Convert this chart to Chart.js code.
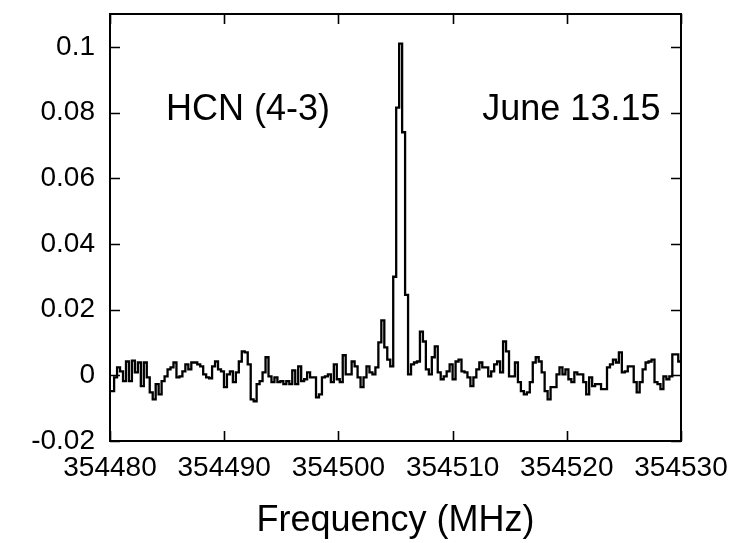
<!DOCTYPE html>
<html><head><meta charset="utf-8">
<style>html,body{margin:0;padding:0;background:#fff;overflow:hidden}#wrap{width:742px;height:543px;position:relative}</style>
<script src="https://cdn.jsdelivr.net/npm/chart.js@4/dist/chart.umd.min.js"></script>
</head><body><div id="wrap"><canvas id="c" width="742" height="543"></canvas></div>
<script>
// ---- data ----
const startFreq = 354480.1;      // MHz, left edge of first channel
const channelWidth = 0.26;       // MHz
const intensity = [
 -0.0048,-0.0006,0.0024,0.0012,-0.0018,0.0042,-0.0018,0.0045,0.0009,0.0039,
 -0.0033,0.0039,-0.0006,-0.0052,-0.0073,-0.0027,-0.0058,-0.0018,-0.0003,0.0018,
 0.0024,0.0039,-0.0006,-0.0003,0.0012,0.0033,0.0018,0.0039,0.0039,0.0033,
 0.0027,0.0003,-0.0006,-0.0009,0.0027,0.0042,0.0018,0.0012,-0.0036,0.0003,
 0.0012,-0.0021,0.0009,0.0042,0.0073,0.0070,0.0033,-0.0073,-0.0079,-0.0027,
 -0.0018,0.0009,0.0055,-0.0003,-0.0021,-0.0006,-0.0021,-0.0018,-0.0027,-0.0018,
 -0.0027,0.0015,-0.0027,0.0027,-0.0018,-0.0012,0.0009,-0.0006,-0.0006,-0.0067,
 -0.0058,-0.0006,-0.0003,0.0003,-0.0021,0.0033,-0.0012,-0.0021,0.0061,0.0003,
 0.0003,0.0042,0.0027,-0.0006,-0.0036,-0.0006,0.0027,0.0009,0.0003,0.0024,
 0.0100,0.0167,0.0085,0.0048,0.0027,0.0300,0.0815,0.1010,0.0740,0.0245,
 0.0003,0.0033,0.0039,0.0042,0.0133,0.0103,0.0018,0.0003,0.0055,0.0088,
 0.0009,-0.0012,-0.0003,0.0012,0.0033,-0.0012,0.0042,0.0048,0.0012,0.0009,
 -0.0006,-0.0033,-0.0006,0.0018,0.0039,0.0024,0.0024,-0.0003,0.0012,0.0033,
 0.0042,0.0009,0.0103,0.0073,-0.0003,-0.0003,0.0039,-0.0021,-0.0048,-0.0058,
 -0.0052,-0.0021,0.0039,0.0055,0.0042,0.0009,-0.0048,-0.0073,-0.0036,-0.0036,
 0.0003,0.0024,0.0003,0.0018,-0.0012,-0.0021,0.0009,0.0003,0.0003,-0.0021,
 -0.0058,-0.0006,-0.0033,-0.0027,-0.0027,-0.0042,-0.0042,0.0024,0.0033,0.0048,
 0.0039,0.0070,0.0009,0.0012,0.0027,0.0027,-0.0021,-0.0052,-0.0021,0.0018,
 0.0039,0.0042,0.0048,-0.0021,-0.0027,-0.0042,-0.0003,-0.0012,-0.0003,0.0064,
 0.0064,0.0042,0.0012,0.0003
];
const xTicks = [354480, 354490, 354500, 354510, 354520, 354530];
const yTicks = [-0.02, 0, 0.02, 0.04, 0.06, 0.08, 0.1];
const yTickLabels = ['-0.02', '0', '0.02', '0.04', '0.06', '0.08', '0.1'];
const xRange = [354480, 354530];
const yRange = [-0.02, 0.11];
const xTitle = 'Frequency (MHz)';
const lineName = 'HCN (4-3)';
const dateName = 'June 13.15';

// ---- build points (channel left edges, stepped) ----
const points = intensity.map((v, i) => ({ x: startFreq + i * channelWidth, y: v }));
points.unshift({ x: xRange[0], y: intensity[0] });
points.push({ x: startFreq + intensity.length * channelWidth, y: intensity[intensity.length - 1] });

const FONT = '"Liberation Sans", Arial, Helvetica, sans-serif';
const TICK_FONT_SIZE = 28;
const TEXT_FONT_SIZE = 36;

const framePlugin = {
  id: 'frame',
  afterDatasetsDraw(chart) {
    const { ctx, chartArea: a, scales } = chart;
    const xs = scales.x, ys = scales.y;
    const len = 10;
    ctx.save();
    ctx.strokeStyle = '#000';
    ctx.lineWidth = 1.6;
    ctx.beginPath();
    yTicks.forEach(v => {
      const py = Math.round(ys.getPixelForValue(v)) + 0.5;
      ctx.moveTo(a.left, py); ctx.lineTo(a.left + len, py);
      ctx.moveTo(a.right, py); ctx.lineTo(a.right - len, py);
    });
    xTicks.forEach(v => {
      const px = Math.round(xs.getPixelForValue(v)) + 0.5;
      ctx.moveTo(px, a.bottom); ctx.lineTo(px, a.bottom - len);
      ctx.moveTo(px, a.top); ctx.lineTo(px, a.top + len);
    });
    ctx.stroke();
    ctx.lineWidth = 2;
    ctx.strokeRect(a.left, a.top, a.right - a.left, a.bottom - a.top);
    // annotations
    ctx.fillStyle = '#000';
    ctx.font = TEXT_FONT_SIZE + 'px ' + FONT;
    ctx.textBaseline = 'middle';
    ctx.textAlign = 'left';
    ctx.fillText(lineName, xs.getPixelForValue(354484.9), ys.getPixelForValue(0.0806));
    ctx.textAlign = 'right';
    ctx.fillText(dateName, xs.getPixelForValue(354528.2), ys.getPixelForValue(0.0806));
    ctx.restore();
  }
};

new Chart(document.getElementById('c'), {
  type: 'line',
  data: {
    datasets: [{
      data: points,
      borderColor: '#000',
      borderWidth: 2.3,
      pointRadius: 0,
      stepped: 'before',
      fill: false,
      tension: 0
    }]
  },
  options: {
    responsive: false,
    animation: false,
    devicePixelRatio: 1,
    layout: { padding: { top: 14, right: 61, left: 0, bottom: 0 } },
    plugins: { legend: { display: false }, tooltip: { enabled: false } },
    scales: {
      x: {
        type: 'linear',
        min: xRange[0], max: xRange[1],
        grid: { display: false, drawTicks: false },
        border: { display: false },
        afterBuildTicks: s => { s.ticks = xTicks.map(v => ({ value: v })); },
        afterFit: s => { s.height = 102; s.paddingLeft = 0; s.paddingRight = 0; },
        ticks: {
          autoSkip: false, maxRotation: 0, minRotation: 0,
          padding: 10, color: '#000',
          font: { family: FONT, size: TICK_FONT_SIZE },
          callback: v => String(v)
        },
        title: {
          display: true, text: xTitle, color: '#000',
          font: { family: FONT, size: TEXT_FONT_SIZE },
          padding: { top: 0, bottom: 0 }
        }
      },
      y: {
        type: 'linear',
        min: yRange[0], max: yRange[1],
        grid: { display: false, drawTicks: false },
        border: { display: false },
        afterBuildTicks: s => { s.ticks = yTicks.map(v => ({ value: v })); },
        afterFit: s => { s.width = 110; s.paddingTop = 0; s.paddingBottom = 0; },
        ticks: {
          padding: 15, color: '#000',
          font: { family: FONT, size: TICK_FONT_SIZE },
          callback: (v, i) => yTickLabels[i]
        }
      }
    }
  },
  plugins: [framePlugin]
});
</script>
</body></html>
